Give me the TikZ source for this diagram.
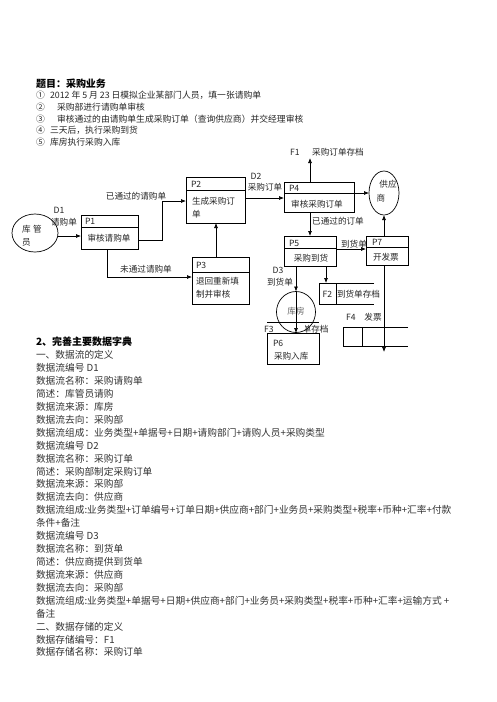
\documentclass[tikz,border=0pt]{standalone}
\usepackage{fontspec}
\setmainfont{Noto Sans CJK SC}
\usetikzlibrary{arrows.meta,shapes.geometric}
\begin{document}
\begin{tikzpicture}[x=1pt,y=-1pt,
  every node/.style={inner sep=0pt, outer sep=0pt},
  ln/.style={line width=0.7pt, draw=black},
  arr/.style={ln, -{Latex[length=5pt,width=4pt]}},
  box/.style={ln, rectangle},
  ell/.style={ln, ellipse},
  txt/.style={font=\fontsize{8.6}{10}\selectfont, text=black!85, text height=0.88em, text depth=0.12em},
  hdr/.style={font=\fontsize{8.8}{10}\selectfont, text=black!85, text height=0.88em, text depth=0.12em, anchor=west},
  body/.style={font=\fontsize{9.7}{11}\selectfont, text=black!80, text height=0.88em, text depth=0.12em, anchor=west},
  ttl/.style={font=\fontsize{10}{11}\bfseries\selectfont, text=black, text height=0.88em, text depth=0.12em, anchor=west},
]
\useasboundingbox[fill=white] (0,0) rectangle (496,702);

% ---------- heading ----------
\node[ttl] (title) at (36,84) {题目：采购业务};
\node[hdr] (n1) at (36,95) {①};
\node[hdr] (h1) at (50,95) {2012 年 5 月 23 日模拟企业某部门人员，填一张请购单};
\node[hdr] (n2) at (36,106.6) {②};
\node[hdr] (h2) at (57,106.6) {采购部进行请购单审核};
\node[hdr] (n3) at (36,118.2) {③};
\node[hdr] (h3) at (57,118.2) {审核通过的由请购单生成采购订单（查询供应商）并交经理审核};
\node[hdr] (n4) at (36,129.8) {④};
\node[hdr] (h4) at (50,129.8) {三天后，执行采购到货};
\node[hdr] (n5) at (36,141.4) {⑤};
\node[hdr] (h5) at (50,141.4) {库房执行采购入库};

% ---------- diagram ----------
% 库管员
\node[ell, minimum width=46pt, minimum height=38pt] (kg) at (35,233) {};
\node[txt, anchor=west] (kgt1) at (22,229) {库\hspace{2.5pt}管};
\node[txt, anchor=west] (kgt2) at (22,242) {员};

% P1
\node[box, minimum width=57pt, minimum height=34pt] (p1) at (109.5,232) {};
\draw[ln] (p1.west |- 0,227) -- (p1.east |- 0,227);
\node[txt, anchor=west] (p1id) at (85,221) {P1};
\node[txt] (p1tx) at (109,238) {审核请购单};

% P2
\node[box, minimum width=59pt, minimum height=46pt] (p2) at (215.5,200) {};
\draw[ln] (p2.west |- 0,190) -- (p2.east |- 0,190);
\node[txt, anchor=west] (p2id) at (191,184) {P2};
\node[txt, anchor=west] (p2a) at (192,201) {生成采购订};
\node[txt, anchor=west] (p2b) at (192,214) {单};

% P3
\node[box, minimum width=57pt, minimum height=47pt] (p3) at (220.5,280.5) {};
\draw[ln] (p3.west |- 0,272) -- (p3.east |- 0,272);
\node[txt, anchor=west] (p3id) at (196,265) {P3};
\node[txt, anchor=west] (p3a) at (196,281) {退回重新填};
\node[txt, anchor=west] (p3b) at (196,294) {制并审核};

% P4
\node[box, minimum width=70pt, minimum height=30pt] (p4) at (319,197) {};
\node[txt, anchor=west] (p4id) at (289,188) {P4};
\node[txt] (p4tx) at (317,204) {审核采购订单};

% 供应商
\node[ell, minimum width=30pt, minimum height=44pt] (sup) at (384,193) {};
\node[txt] (supt1) at (388,184) {供应};
\node[txt] (supt2) at (381,198) {商};

% P5
\node[box, minimum width=52pt, minimum height=30pt] (p5) at (310,251) {};
\draw[ln] (p5.west |- 0,248) -- (p5.east |- 0,248);
\node[txt, anchor=west] (p5id) at (289,243) {P5};
\node[txt] (p5tx) at (311,258) {采购到货};

% P7
\node[box, minimum width=42pt, minimum height=29pt] (p7) at (387,250.5) {};
\draw[ln] (p7.west |- 0,247) -- (p7.east |- 0,247);
\node[txt, anchor=west] (p7id) at (372,242) {P7};
\node[txt, anchor=west] (p7tx) at (373,257) {开发票};

% F2 store
\node[minimum width=55pt, minimum height=21pt] (f2) at (346.5,293.5) {};
\draw[ln] (f2.north east) -- (f2.north west) -- (f2.south west) -- (f2.south east);
\draw[ln] (f2.north -| 336,0) -- (f2.south -| 336,0);
\node[txt] (f2id) at (327.5,293.5) {F2};
\node[txt, anchor=west] (f2tx) at (337,293.5) {到货单存档};

% 库房
\node[ell, minimum width=39pt, minimum height=41pt] (kf) at (296,312) {};
\node[txt, text=black!60] (kft) at (296,311) {库房};

% F3 store
\coordinate (f3a) at (267,322);
\coordinate (f3b) at (319,322);
\draw[ln] (f3a) -- (f3b);
\node[txt] (f3id) at (269,329) {F3};
\begin{scope}
  \clip (305,320) rectangle (340,338);
  \node[txt, anchor=east] (f3tx) at (328.5,329) {单存档};
\end{scope}

% P6
\node[box, minimum width=52pt, minimum height=31pt] (p6) at (293,348.5) {};
\node[txt, anchor=west] (p6id) at (273,343) {P6};
\node[txt, anchor=west] (p6tx) at (274,356) {采购入库};

% F4 store
\node[minimum width=65pt, minimum height=19pt] (f4) at (375.5,336.5) {};
\draw[ln] (f4.north east) -- (f4.north west) -- (f4.south west) -- (f4.south east);
\draw[ln] (f4.north -| 362,0) -- (f4.south -| 362,0);
\node[txt] (f4id) at (351,317) {F4};
\node[txt] (f4tx) at (373,317) {发票};

% ---------- connectors ----------
\draw[arr] ([yshift=-3pt]kg.east) -- ([yshift=-3pt]kg.east -| p1.west);
\node[txt] (d1a) at (59,210) {D1};
\node[txt] (d1b) at (64,222) {请购单};

\draw[arr] (p1.east |- 0,240) -| (162,201) -- (p2.west |- 0,201);
\node[txt] (l1) at (136,196) {已通过的请购单};

\draw[arr] (p1.south -| 107,0) |- (p3.west |- 0,277);
\node[txt] (l2) at (146,269) {未通过请购单};

\draw[arr] (p3.north -| 216,0) -- (p2.south -| 216,0);

\draw[arr] (p2.east |- 0,198) -- (p4.west |- 0,198);
\node[txt] (d2a) at (256,176) {D2};
\node[txt] (d2b) at (265,187) {采购订单};

\coordinate (f1end) at (310,158);
\draw[arr] (f1end |- p4.north) -- (f1end);
\node[txt] (f1id) at (295,152) {F1};
\node[txt] (f1tx) at (338,152) {采购订单存档};

\draw[arr] (p4.west |- 0,193) -- (sup.west);

\draw[arr] (p4.south -| 310,0) -- (p5.north -| 310,0);
\node[txt] (l3) at (338,221) {已通过的订单};

\draw[arr] (p5.east |- 0,249) -- (p7.west |- 0,249);
\node[txt] (l4) at (354,244) {到货单};

\draw[arr] (p7.north -| sup.south) -- (sup.south);

\coordinate (p7end) at (384,352);
\draw[arr] (p7.south -| p7end) -- (p7end);

\draw[arr] (p5.south -| 326,0) -- (f2.north -| 326,0);

\draw[arr] (p5.south -| kf.north) -- (kf.north);
\draw[arr] (kf.north) -- (kf.north |- p6.north);
\node[txt] (d3a) at (278,270) {D3};
\node[txt] (d3b) at (280,282) {到货单};

% ---------- data dictionary ----------
\node[ttl] (s2) at (36,342) {2、完善主要数据字典};
\node[body] (b2) at (36,354.9) {一、数据流的定义};
\node[body] (b3) at (36,367.8) {数据流编号 D1};
\node[body] (b4) at (36,380.8) {数据流名称：采购请购单};
\node[body] (b5) at (36,393.7) {简述：库管员请购};
\node[body] (b6) at (36,406.6) {数据流来源：库房};
\node[body] (b7) at (36,419.5) {数据流去向：采购部};
\node[body] (b8) at (36,432.4) {数据流组成：业务类型+单据号+日期+请购部门+请购人员+采购类型};
\node[body] (b9) at (36,445.4) {数据流编号 D2};
\node[body] (b10) at (36,458.3) {数据流名称：采购订单};
\node[body] (b11) at (36,471.2) {简述：采购部制定采购订单};
\node[body] (b12) at (36,484.1) {数据流来源：采购部};
\node[body] (b13) at (36,497.0) {数据流去向：供应商};
\node[body] (b14) at (36,510.0) {数据流组成:业务类型+订单编号+订单日期+供应商+部门+业务员+采购类型+税率+币种+汇率+付款};
\node[body] (b15) at (36,522.9) {条件+备注};
\node[body] (b16) at (36,535.8) {数据流编号 D3};
\node[body] (b17) at (36,548.7) {数据流名称：到货单};
\node[body] (b18) at (36,561.6) {简述：供应商提供到货单};
\node[body] (b19) at (36,574.6) {数据流来源：供应商};
\node[body] (b20) at (36,587.5) {数据流去向：采购部};
\node[body] (b21) at (36,600.4) {数据流组成:业务类型+单据号+日期+供应商+部门+业务员+采购类型+税率+币种+汇率+运输方式 +};
\node[body] (b22) at (36,613.3) {备注};
\node[body] (b23) at (36,626.2) {二、数据存储的定义};
\node[body] (b24) at (36,639.2) {数据存储编号：F1};
\node[body] (b25) at (36,652.1) {数据存储名称：采购订单};
\end{tikzpicture}
\end{document}
